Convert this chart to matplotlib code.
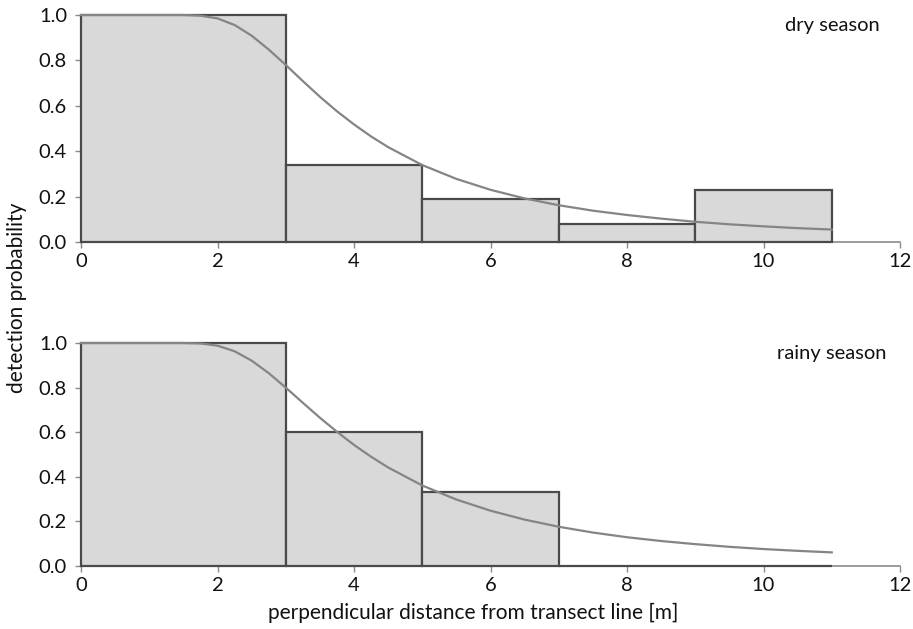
import matplotlib
matplotlib.use("Agg")
import matplotlib.pyplot as plt

plt.rcParams['font.family'] = ['Lato', 'DejaVu Sans']

# histogram bins (perpendicular distance, m)
bin_left = [0, 3, 5, 7, 9]
bin_width = [3, 2, 2, 2, 2]
dry_bars = [1.0, 0.34, 0.19, 0.08, 0.23]
rainy_bars = [1.0, 0.60, 0.33, 0.0, 0.0]

# fitted detection curves
curve_x = [0, 0.5, 1.0, 1.5, 1.75, 2.0, 2.25, 2.5, 2.75, 3.0, 3.25, 3.5, 3.75,
           4.0, 4.25, 4.5, 5.0, 5.5, 6.0, 6.5, 7.0, 7.5, 8.0, 8.5, 9.0, 9.5,
           10.0, 10.5, 11.0]
dry_curve = [1.0, 1.0, 1.0, 1.0, 0.997, 0.985, 0.956, 0.909, 0.848, 0.78, 0.709,
             0.64, 0.576, 0.518, 0.465, 0.418, 0.339, 0.278, 0.230, 0.192, 0.162,
             0.138, 0.119, 0.103, 0.089, 0.078, 0.069, 0.061, 0.055]
rainy_curve = [1.0, 1.0, 1.0, 1.0, 0.998, 0.988, 0.963, 0.921, 0.865, 0.80, 0.732,
               0.665, 0.602, 0.543, 0.490, 0.442, 0.361, 0.298, 0.248, 0.208, 0.176,
               0.150, 0.129, 0.112, 0.098, 0.086, 0.076, 0.068, 0.061]

x_ticks = [0, 2, 4, 6, 8, 10, 12]
y_ticks = [0.0, 0.2, 0.4, 0.6, 0.8, 1.0]
titles = ['dry season', 'rainy season']

fig = plt.figure(figsize=(9.13, 6.29), dpi=100)
W, H = 913, 629
ax1 = fig.add_axes([81 / W, 1 - 242 / H, 819 / W, 227 / H])
ax2 = fig.add_axes([81 / W, 1 - 566 / H, 819 / W, 223 / H])

for ax, bars, curve, title, ty in [(ax1, dry_bars, dry_curve, titles[0], 25),
                                   (ax2, rainy_bars, rainy_curve, titles[1], 353)]:
    ax.bar(bin_left, bars, width=bin_width, align='edge', color='#d9d9d9',
           edgecolor='#4a4a4a', linewidth=1.6, zorder=3, clip_on=False)
    ax.plot(curve_x, curve, color='#858585', linewidth=1.6, zorder=4, clip_on=False)
    ax.set_xlim(0, 12)
    ax.set_ylim(0, 1)
    ax.set_xticks(x_ticks)
    ax.set_yticks(y_ticks)
    ax.set_yticklabels([f'{v:.1f}' for v in y_ticks])
    for s in ['top', 'right']:
        ax.spines[s].set_visible(False)
    for s in ['left', 'bottom']:
        ax.spines[s].set_color('#8a8a8a')
        ax.spines[s].set_linewidth(1.2)
    ax.tick_params(axis='both', direction='out', length=4, width=1.0,
                   color='#8a8a8a', labelsize=14.5, labelcolor='#111111', pad=4)
    ax.tick_params(axis='y', pad=6)
    ax.patch.set_visible(False)
    fig.text(832 / W, 1 - ty / H, title, ha='center', va='center', fontsize=14.5,
             color='#111111')

fig.text(17 / W, 1 - 298 / H, 'detection probability', rotation=90,
         ha='center', va='center', fontsize=15, color='#111111')
fig.text(473 / W, 1 - 613 / H, 'perpendicular distance from transect line [m]',
         ha='center', va='center', fontsize=15, color='#111111')

fig.savefig('out.png', dpi=100)
